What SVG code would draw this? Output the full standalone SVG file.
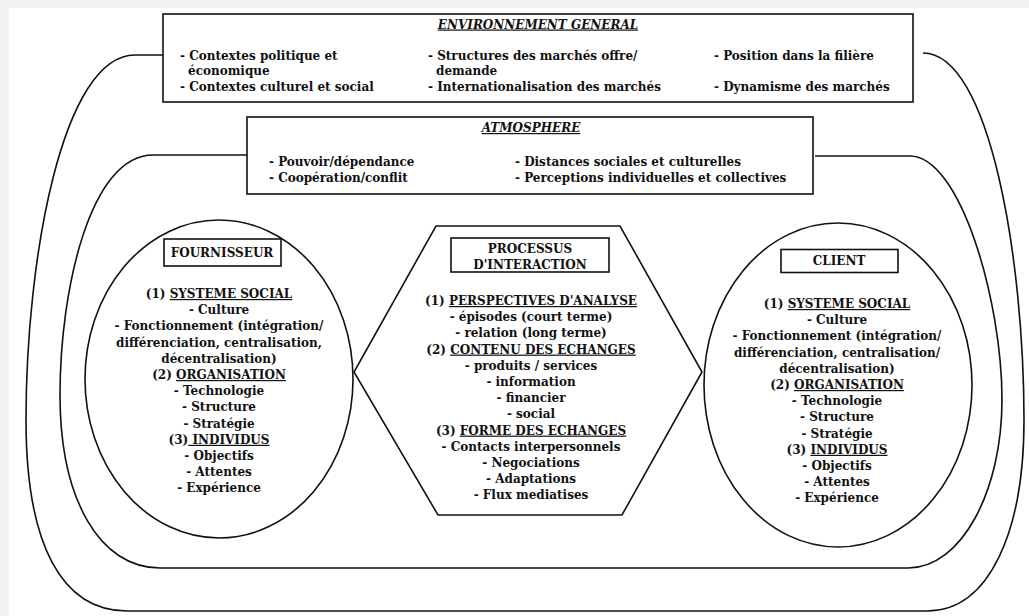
<svg xmlns="http://www.w3.org/2000/svg" width="1029" height="616" viewBox="0 0 1029 616">
<style>
.t{font-family:"DejaVu Serif","Liberation Serif",serif;font-weight:bold;font-size:12px;fill:#111}
.c{text-anchor:middle}
.u{text-decoration:underline}
.i{font-style:italic}
.ln{fill:none;stroke:#111;stroke-width:1.6}
.bx{fill:#fff;stroke:#111;stroke-width:1.6}
</style>
<rect x="0" y="0" width="1029" height="616" fill="#f2f2f2"/>
<rect x="9" y="8" width="1020" height="608" fill="#fff"/>
<g id="connectors">
<path class="ln" d="M163,55 L135,55 C62,55 26,260 26,420 C26,545 62,611 127,611 L927,611 C990,611 1024,530 1024,420 C1024,260 990,53 923,53"/>
<path class="ln" d="M247,155 L153,155 C90,155 60,290 60,395 C60,500 100,568 160,568 L908,568 C962,568 1002,490 1002,400 C1002,300 960,156 910,156 L815,156"/>
</g>
<g id="environnement">
<rect class="bx" x="163" y="14" width="750" height="88"/>
<text class="t c i u" x="538" y="28.5">ENVIRONNEMENT GENERAL</text>
<text class="t" x="180" y="59.5">- Contextes politique et</text>
<text class="t" x="188" y="75">économique</text>
<text class="t" x="180" y="90.5">- Contextes culturel et social</text>
<text class="t" x="428" y="59.5">- Structures des marchés offre/</text>
<text class="t" x="436" y="75">demande</text>
<text class="t" x="428" y="90.5">- Internationalisation des marchés</text>
<text class="t" x="714" y="59.5">- Position dans la filière</text>
<text class="t" x="714" y="90.5">- Dynamisme des marchés</text>
</g>
<g id="atmosphere">
<rect class="bx" x="247" y="117" width="566" height="77"/>
<text class="t c i u" x="531" y="132">ATMOSPHERE</text>
<text class="t" x="269" y="165.5">- Pouvoir/dépendance</text>
<text class="t" x="269" y="182">- Coopération/conflit</text>
<text class="t" x="515" y="165.5">- Distances sociales et culturelles</text>
<text class="t" x="515" y="182">- Perceptions individuelles et collectives</text>
</g>
<g id="fournisseur">
<ellipse class="ln" cx="219" cy="379" rx="134" ry="159"/>
<rect class="bx" x="164" y="239" width="117" height="27"/>
<text class="t c" x="222" y="256.5">FOURNISSEUR</text>
<text class="t c" x="219" y="298">(1) <tspan class="u">SYSTEME SOCIAL</tspan></text>
<text class="t c" x="219" y="314.2">- Culture</text>
<text class="t c" x="219" y="330.4">- Fonctionnement (intégration/</text>
<text class="t c" x="219" y="346.6">différenciation, centralisation,</text>
<text class="t c" x="219" y="362.8">décentralisation)</text>
<text class="t c" x="219" y="379">(2) <tspan class="u">ORGANISATION</tspan></text>
<text class="t c" x="219" y="395.2">- Technologie</text>
<text class="t c" x="219" y="411.4">- Structure</text>
<text class="t c" x="219" y="427.6">- Stratégie</text>
<text class="t c" x="219" y="443.8">(3)<tspan class="u"> INDIVIDUS</tspan></text>
<text class="t c" x="219" y="460">- Objectifs</text>
<text class="t c" x="219" y="476.2">- Attentes</text>
<text class="t c" x="219" y="492.4">- Expérience</text>
</g>
<g id="processus">
<polygon class="ln" points="436,226 620,226 702,372 622,515 438,515 354,372"/>
<rect class="bx" x="451" y="238" width="158" height="34"/>
<text class="t c" x="530" y="252.5">PROCESSUS</text>
<text class="t c" x="530" y="268.5">D'INTERACTION</text>
<text class="t c" x="531" y="305">(1) <tspan class="u">PERSPECTIVES D'ANALYSE</tspan></text>
<text class="t c" x="531" y="321.2">- épisodes (court terme)</text>
<text class="t c" x="531" y="337.4">- relation (long terme)</text>
<text class="t c" x="531" y="353.6">(2) <tspan class="u">CONTENU DES ECHANGES</tspan></text>
<text class="t c" x="531" y="369.8">- produits / services</text>
<text class="t c" x="531" y="386">- information</text>
<text class="t c" x="531" y="402.2">- financier</text>
<text class="t c" x="531" y="418.4">- social</text>
<text class="t c" x="531" y="434.6">(3) <tspan class="u">FORME DES ECHANGES</tspan></text>
<text class="t c" x="531" y="450.8">- Contacts interpersonnels</text>
<text class="t c" x="531" y="467">- Negociations</text>
<text class="t c" x="531" y="483.2">- Adaptations</text>
<text class="t c" x="531" y="499.4">- Flux mediatises</text>
</g>
<g id="client">
<ellipse class="ln" cx="838" cy="385" rx="134" ry="162"/>
<rect class="bx" x="781" y="249.5" width="117" height="23"/>
<text class="t c" x="839" y="265">CLIENT</text>
<text class="t c" x="837" y="308">(1) <tspan class="u">SYSTEME SOCIAL</tspan></text>
<text class="t c" x="837" y="324.2">- Culture</text>
<text class="t c" x="837" y="340.4">- Fonctionnement (intégration/</text>
<text class="t c" x="837" y="356.6">différenciation, centralisation/</text>
<text class="t c" x="837" y="372.8">décentralisation)</text>
<text class="t c" x="837" y="389">(2) <tspan class="u">ORGANISATION</tspan></text>
<text class="t c" x="837" y="405.2">- Technologie</text>
<text class="t c" x="837" y="421.4">- Structure</text>
<text class="t c" x="837" y="437.6">- Stratégie</text>
<text class="t c" x="837" y="453.8">(3) <tspan class="u">INDIVIDUS</tspan></text>
<text class="t c" x="837" y="470">- Objectifs</text>
<text class="t c" x="837" y="486.2">- Attentes</text>
<text class="t c" x="837" y="502.4">- Expérience</text>
</g>
</svg>
